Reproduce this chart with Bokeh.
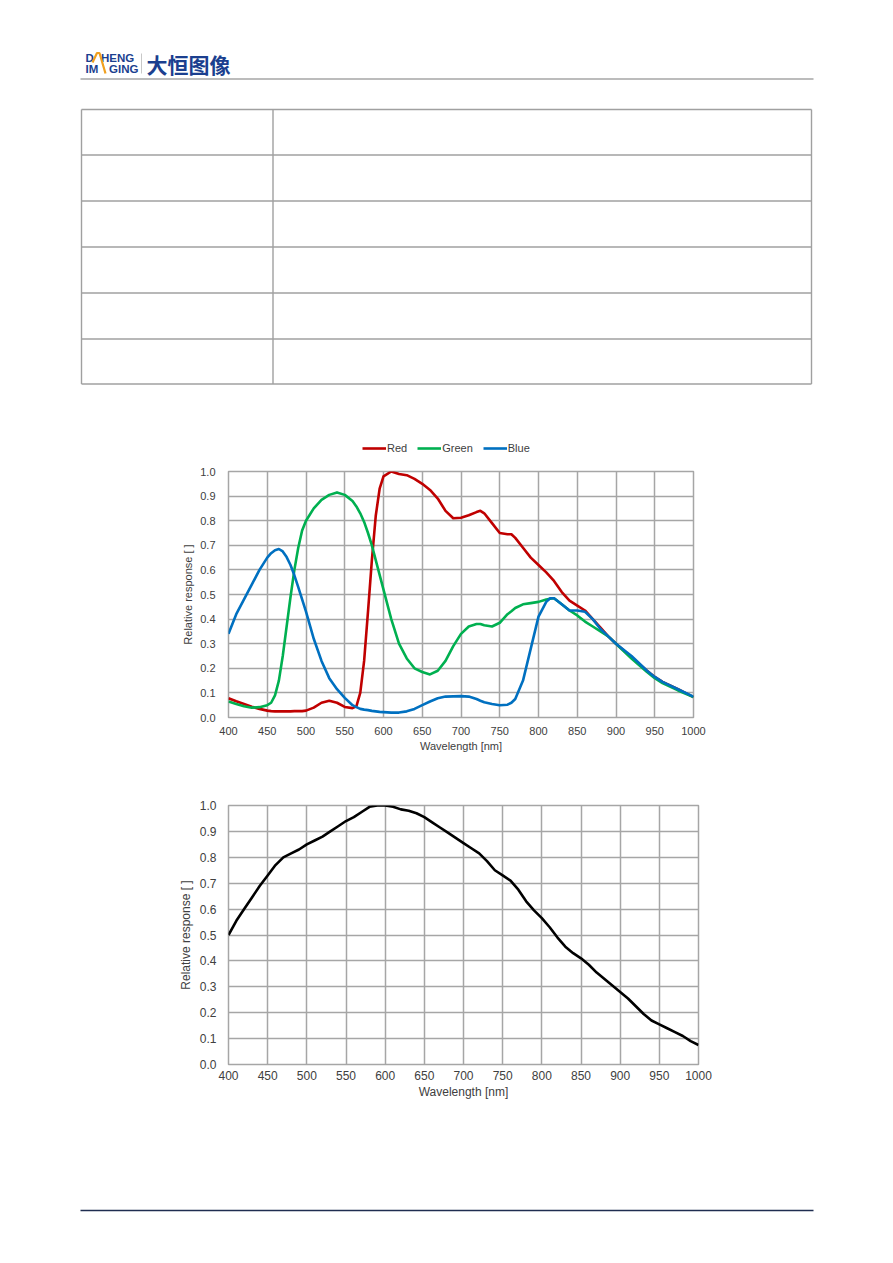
from bokeh.plotting import figure
from bokeh.models import Range1d, FixedTicker, NumeralTickFormatter, Legend, LegendItem
from bokeh.core.properties import value
from bokeh.embed import file_html
from bokeh.resources import INLINE

# ---------------- data ----------------
wl_rgb = [400, 410, 420, 430, 440, 450, 455, 460, 465, 470, 475, 480, 485, 490, 495, 500,
          510, 520, 530, 540, 550, 560, 565, 570, 575, 580, 585, 590, 595, 600, 610, 620,
          630, 640, 650, 660, 670, 680, 690, 700, 710, 720, 725, 730, 740, 750, 760, 765,
          770, 780, 790, 800, 810, 815, 820, 830, 840, 850, 860, 870, 880, 890, 900, 920,
          940, 950, 960, 980, 1000]

red = [0.078, 0.066, 0.055, 0.044, 0.035, 0.028, 0.026, 0.025, 0.025, 0.025, 0.025, 0.025, 0.026, 0.026, 0.026, 0.028,
       0.040, 0.060, 0.068, 0.060, 0.043, 0.038, 0.045, 0.100, 0.230, 0.430, 0.640, 0.820, 0.930, 0.980, 1.000, 0.990,
       0.985, 0.970, 0.950, 0.925, 0.890, 0.840, 0.810, 0.812, 0.822, 0.835, 0.840, 0.830, 0.790, 0.750, 0.745, 0.745,
       0.730, 0.690, 0.650, 0.620, 0.590, 0.573, 0.555, 0.510, 0.475, 0.455, 0.435, 0.400, 0.365, 0.330, 0.300, 0.245,
       0.190, 0.165, 0.145, 0.115, 0.083]

green = [0.065, 0.055, 0.046, 0.040, 0.042, 0.050, 0.060, 0.090, 0.150, 0.250, 0.370, 0.490, 0.600, 0.690, 0.760, 0.800,
         0.850, 0.885, 0.905, 0.915, 0.905, 0.880, 0.858, 0.830, 0.795, 0.750, 0.700, 0.640, 0.580, 0.520, 0.400, 0.300,
         0.240, 0.200, 0.185, 0.175, 0.190, 0.230, 0.290, 0.340, 0.370, 0.380, 0.380, 0.375, 0.370, 0.385, 0.420, 0.432,
         0.445, 0.460, 0.465, 0.470, 0.480, 0.483, 0.485, 0.460, 0.435, 0.415, 0.390, 0.370, 0.350, 0.330, 0.300, 0.240,
         0.185, 0.160, 0.140, 0.110, 0.083]

blue = [0.340, 0.420, 0.480, 0.540, 0.600, 0.650, 0.668, 0.680, 0.685, 0.675, 0.652, 0.620, 0.578, 0.530, 0.480, 0.430,
        0.320, 0.230, 0.160, 0.115, 0.080, 0.050, 0.042, 0.035, 0.032, 0.030, 0.027, 0.025, 0.023, 0.022, 0.020, 0.020,
        0.025, 0.035, 0.050, 0.065, 0.078, 0.085, 0.086, 0.087, 0.085, 0.075, 0.068, 0.062, 0.055, 0.050, 0.052, 0.060,
        0.075, 0.150, 0.280, 0.410, 0.470, 0.485, 0.485, 0.460, 0.435, 0.435, 0.430, 0.400, 0.360, 0.330, 0.300, 0.250,
        0.190, 0.165, 0.145, 0.115, 0.085]

wl_mono = [400, 410, 420, 430, 440, 450, 460, 470, 480, 490, 500, 510, 520, 530, 540, 550, 560, 570, 580, 590,
           600, 610, 620, 630, 640, 650, 660, 670, 680, 690, 700, 710, 720, 730, 740, 750, 760, 770, 780, 790,
           800, 810, 820, 830, 840, 850, 860, 870, 880, 890, 900, 910, 920, 930, 940, 950, 960, 970, 980, 990, 1000]
mono = [0.500, 0.555, 0.600, 0.645, 0.690, 0.730, 0.770, 0.800, 0.815, 0.830, 0.850, 0.865, 0.880, 0.900, 0.920, 0.940, 0.955, 0.975, 0.995, 1.000,
        1.000, 0.995, 0.985, 0.980, 0.970, 0.955, 0.935, 0.915, 0.895, 0.875, 0.855, 0.835, 0.815, 0.785, 0.750, 0.730, 0.710, 0.675, 0.630, 0.595,
        0.565, 0.530, 0.490, 0.455, 0.430, 0.410, 0.385, 0.355, 0.330, 0.305, 0.280, 0.255, 0.225, 0.195, 0.170, 0.155, 0.140, 0.125, 0.110, 0.090, 0.075]

x_ticks = [400, 450, 500, 550, 600, 650, 700, 750, 800, 850, 900, 950, 1000]
y_ticks = [0.0, 0.1, 0.2, 0.3, 0.4, 0.5, 0.6, 0.7, 0.8, 0.9, 1.0]

series_names = ["Red", "Green", "Blue"]
series_colors = ["#c00000", "#00b050", "#0070c0"]

x_label = "Wavelength [nm]"
y_label = "Relative response [ ]"

FONT = "Liberation Sans"
W = 885


def blank(y_top, y_bottom):
    f = figure(width=W, height=y_bottom - y_top, x_range=Range1d(0, W),
               y_range=Range1d(y_bottom, y_top), output_backend="svg",
               toolbar_location=None, x_axis_location=None, y_axis_location=None,
               min_border=0, outline_line_color=None)
    f.grid.visible = False
    return f


# ---------------- header + table (+ legend of chart 1) ----------------
top = blank(0, 460)
top.segment(x0=[80], y0=[78.5], x1=[813], y1=[78.5], line_color="#a6a6a6", line_width=1.5)
navy = "#1b3f8f"
top.text(x=[85, 100.5, 85, 108.5], y=[57, 57, 68.5, 68.5], text=["D", "HENG", "IM", "GING"],
         text_font=value(FONT), text_font_style="bold", text_font_size="11.5px",
         text_baseline="middle", text_align="left", text_color=navy)
top.line(x=[92, 96.5, 99, 105], y=[62, 52.5, 52.5, 73], line_color="#f0a020", line_width=2.2)
top.segment(x0=[141], y0=[53], x1=[141], y1=[73], line_color="#c8c8c8", line_width=1)
top.text(x=[146], y=[63], text=["大恒图像"], text_font=value("Noto Sans CJK SC"),
         text_font_style="bold", text_font_size="21px", text_baseline="middle",
         text_align="left", text_color=navy)
rows = [109, 154.5, 200.5, 246.5, 292.5, 338.5, 383.5]
cols = [81, 272.5, 811]
top.segment(x0=[cols[0]] * len(rows), y0=rows, x1=[cols[-1]] * len(rows), y1=rows,
            line_color="#a0a0a0", line_width=1.4)
top.segment(x0=cols, y0=[rows[0]] * len(cols), x1=cols, y1=[rows[-1]] * len(cols),
            line_color="#a0a0a0", line_width=1.4)

# legend swatches for chart 1 (proxy lines kept off-canvas)
leg_renderers = [top.line(x=[-50, -40], y=[-50, -50], line_color=c, line_width=2.6)
                 for c in series_colors]
legend = Legend(items=[LegendItem(label=n, renderers=[r]) for n, r in zip(series_names, leg_renderers)],
                location=(362, 5), orientation="horizontal", glyph_width=24, glyph_height=14,
                label_standoff=1, spacing=10, padding=0, margin=0, border_line_color=None,
                background_fill_alpha=0, label_text_font=FONT, label_text_font_size="11px",
                label_text_color="#404040", label_height=14)
top.add_layout(legend)


# ---------------- charts ----------------
def chart(h, bl, br, bt, bb, fs, xstand, ystand, ylab_stand, xlab_stand):
    p = figure(width=W, height=h, x_range=Range1d(400, 1000), y_range=Range1d(0, 1),
               output_backend="svg", toolbar_location=None,
               min_border_left=bl, min_border_right=br, min_border_top=bt, min_border_bottom=bb,
               outline_line_color="#a6a6a6", outline_line_width=1.5,
               background_fill_color="white", border_fill_color="white")
    p.xaxis.ticker = FixedTicker(ticks=x_ticks)
    p.yaxis.ticker = FixedTicker(ticks=y_ticks)
    p.yaxis.formatter = NumeralTickFormatter(format="0.0")
    p.grid.grid_line_color = "#a6a6a6"
    p.grid.grid_line_width = 1.5
    p.xgrid.ticker = FixedTicker(ticks=x_ticks)
    p.ygrid.ticker = FixedTicker(ticks=y_ticks)
    for ax in (p.xaxis, p.yaxis):
        ax.axis_line_color = None
        ax.major_tick_line_color = None
        ax.minor_tick_line_color = None
        ax.major_tick_out = 0
        ax.major_tick_in = 0
        ax.minor_tick_out = 0
        ax.minor_tick_in = 0
        ax.major_label_text_font = FONT
        ax.major_label_text_font_size = fs
        ax.major_label_text_color = "#404040"
        ax.axis_label_text_font = FONT
        ax.axis_label_text_font_size = fs
        ax.axis_label_text_font_style = "normal"
        ax.axis_label_text_color = "#404040"
    p.xaxis.major_label_standoff = xstand
    p.yaxis.major_label_standoff = ystand
    p.xaxis.axis_label = x_label
    p.yaxis.axis_label = y_label
    p.xaxis.axis_label_standoff = xlab_stand
    p.yaxis.axis_label_standoff = ylab_stand
    return p


c1 = chart(310, 228, 192, 11, 53, "11px", 9, 13, 3, 2)
for ys, col in zip([red, green, blue], series_colors):
    c1.line(wl_rgb, ys, line_color=col, line_width=2.6, line_join="round")

c2 = chart(340, 228, 187, 35, 46, "12px", 6, 12, 4, 2)
c2.line(wl_mono, mono, line_color="#000000", line_width=2.6, line_join="round")

# ---------------- footer ----------------
foot = blank(1110, 1255)
foot.segment(x0=[80], y0=[1210], x1=[813], y1=[1210], line_color="#1f2d50", line_width=1.5)

open("out.html", "w").write(file_html([top, c1, c2, foot], INLINE))
